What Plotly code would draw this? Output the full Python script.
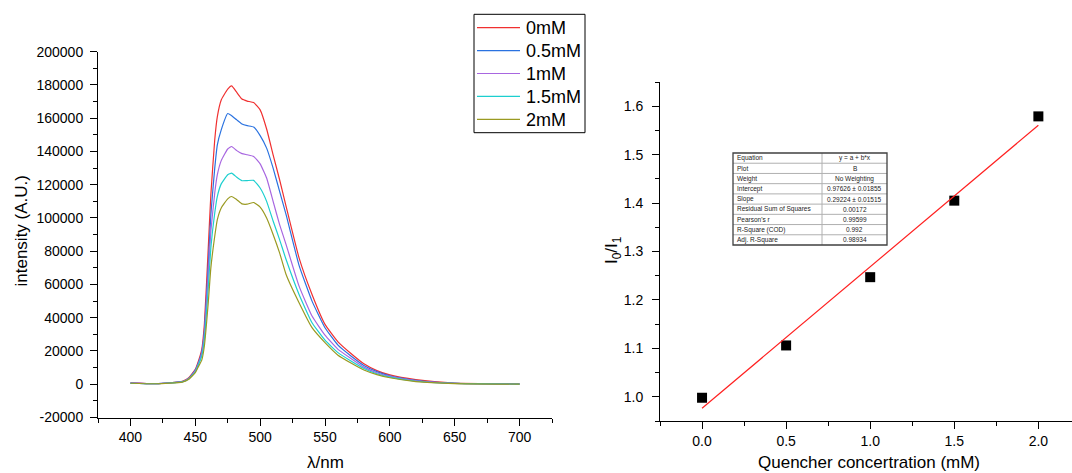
import plotly.graph_objects as go

W, H = 1072, 473

# ---------------- data: emission spectra ----------------
wavelength = [400, 420, 440, 445, 450, 452, 455, 457, 460, 462, 465, 467, 470, 475, 478, 482, 486,
              490, 495, 500, 505, 510, 515, 520, 530, 540, 550, 560, 570, 580, 590, 600, 620, 650, 700]
series_names = ["0mM", "0.5mM", "1mM", "1.5mM", "2mM"]
int_0mM = [800, 300, 1800, 4000, 9000, 13000, 21000, 36000, 82000, 114000, 147000, 161000, 171000,
           177500, 179400, 175500, 171500, 170300, 169400, 165000, 153500, 138000, 123000, 107000,
           76000, 54000, 36000, 25500, 18500, 12300, 8200, 5600, 2800, 700, 200]
int_05mM = [700, 300, 1600, 3600, 8500, 12000, 19500, 32000, 72000, 102000, 130000, 144000, 153000,
            162800, 161500, 159000, 156500, 155500, 154700, 149500, 142000, 130000, 116000, 102000,
            71500, 50000, 34000, 23500, 17000, 11300, 7600, 5100, 2400, 600, 150]
int_1mM = [700, 300, 1500, 3400, 8000, 11500, 18500, 30000, 66000, 92000, 115000, 126000, 134500,
           141500, 143000, 140500, 138700, 138000, 137000, 132500, 124000, 110000, 96000, 84000,
           59000, 41000, 29500, 21000, 15500, 10300, 6900, 4700, 2000, 500, 100]
int_15mM = [600, 300, 1400, 3200, 7500, 11000, 17000, 27000, 58000, 82000, 103000, 113000, 120500,
            126000, 127000, 124500, 122400, 122500, 122600, 118000, 110000, 98200, 87000, 75000,
            54000, 37000, 26500, 19000, 14000, 9500, 6300, 4300, 1800, 500, 100]
int_2mM = [600, 300, 1300, 3000, 7000, 10000, 14500, 23000, 49000, 70000, 89000, 99000, 106000,
           111500, 112900, 111000, 108500, 108300, 109300, 106500, 100000, 90100, 79000, 66000,
           49000, 34000, 25000, 17500, 12800, 8600, 5800, 3900, 1600, 400, 100]
spectra = [int_0mM, int_05mM, int_1mM, int_15mM, int_2mM]
colors = ["#F03030", "#2A72E0", "#A866E0", "#1CCFCF", "#9A9A22"]

left_y_ticks = [-20000, 0, 20000, 40000, 60000, 80000, 100000, 120000, 140000, 160000, 180000, 200000]
left_y_ticktext = ["-20000", "0", "20000", "40000", "60000", "80000", "100000", "120000",
                   "140000", "160000", "180000", "200000"]

# ---------------- data: Stern-Volmer ----------------
conc = [0.0, 0.5, 1.0, 1.5, 2.0]
ratio = [0.998, 1.106, 1.247, 1.405, 1.579]
fit_x = [0.0, 2.0]
fit_y = [0.97626, 1.56074]

table_labels = ["Equation", "Plot", "Weight", "Intercept", "Slope",
                "Residual Sum of Squares", "Pearson's r", "R-Square (COD)", "Adj. R-Square"]
table_values = ["y = a + b*x", "B", "No Weighting", "0.97626 \u00b1 0.01855",
                "0.29224 \u00b1 0.01515", "0.00172", "0.99599", "0.992", "0.98934"]


def px(x):
    return x / W


def py(y):
    return 1 - y / H


FONT = "Arial, Liberation Sans, sans-serif"

fig = go.Figure()
for name, vals, c in zip(series_names, spectra, colors):
    fig.add_trace(go.Scatter(x=wavelength, y=vals, mode="lines", name=name, showlegend=False,
                             line=dict(color=c, width=1.2, shape="spline", smoothing=0.4),
                             xaxis="x", yaxis="y"))

fig.add_trace(go.Scatter(x=conc, y=ratio, mode="markers", showlegend=False,
                         marker=dict(symbol="square", size=10, color="black"),
                         xaxis="x2", yaxis="y2"))
fig.add_trace(go.Scatter(x=fit_x, y=fit_y, mode="lines", showlegend=False,
                         line=dict(color="#FF2020", width=1.2),
                         xaxis="x2", yaxis="y2"))

axis_common = dict(showline=True, linecolor="black", linewidth=1, showgrid=False,
                   zeroline=False, ticks="outside", ticklen=7, tickwidth=1, tickcolor="black",
                   tickfont=dict(family=FONT, size=14, color="black"), automargin=False)

fig.update_layout(
    width=W, height=H,
    margin=dict(l=0, r=0, t=0, b=0),
    paper_bgcolor="white", plot_bgcolor="white",
    font=dict(family=FONT, color="black"),
    xaxis=dict(domain=[px(98), px(552)], range=[375, 725], anchor="y",
               tick0=0, dtick=50,
               minor=dict(dtick=25, tick0=0, ticklen=4, ticks="outside", tickcolor="black"),
               **axis_common),
    yaxis=dict(domain=[py(417.5), py(51.7)], range=[-20000, 200000], anchor="x",
               tickvals=left_y_ticks, ticktext=left_y_ticktext, ticklabelstandoff=4,
               minor=dict(dtick=10000, tick0=0, ticklen=4, ticks="outside", tickcolor="black"),
               **axis_common),
    xaxis2=dict(domain=[px(660), 1.0], range=[-0.25, 2.2], anchor="y2",
                tick0=0, dtick=0.5, tickformat=".1f",
                minor=dict(dtick=0.25, tick0=0, ticklen=4, ticks="outside", tickcolor="black"),
                **axis_common),
    yaxis2=dict(domain=[py(421), py(82)], range=[0.95, 1.65], anchor="x2",
                tick0=1.0, dtick=0.1, tickformat=".1f", ticklabelstandoff=6,
                minor=dict(dtick=0.05, tick0=0, ticklen=4, ticks="outside", tickcolor="black"),
                **axis_common),
    showlegend=False,
)

annotations = [
    dict(text="intensity (A.U.)", x=px(20.5), y=py(231), xref="paper", yref="paper",
         xanchor="center", yanchor="middle",
         textangle=-90, showarrow=False, font=dict(family=FONT, size=17, color="black")),
    dict(text="\u03bb/nm", x=px(325), y=py(462.5), xref="paper", yref="paper",
         xanchor="center", yanchor="middle",
         showarrow=False, font=dict(family=FONT, size=17, color="black")),
    dict(text="I<sub>0</sub>/I<sub>1</sub>", x=px(613), y=py(250), xref="paper", yref="paper",
         xanchor="center", yanchor="middle",
         textangle=-90, showarrow=False, font=dict(family=FONT, size=17, color="black")),
    dict(text="Quencher concertration (mM)", x=px(869), y=py(462), xref="paper", yref="paper",
         xanchor="center", yanchor="middle",
         showarrow=False, font=dict(family=FONT, size=17, color="black")),
]
shapes = []

# legend box (drawn as an inset)
lg_x0, lg_x1, lg_y0, lg_y1 = 474, 585, 14.3, 132.7
lg_first, lg_step = 27.7, 22.9
shapes.append(dict(type="rect", xref="paper", yref="paper", x0=px(lg_x0), x1=px(lg_x1),
                   y0=py(lg_y1), y1=py(lg_y0), line=dict(color="black", width=1),
                   fillcolor="white", layer="above"))
for i, (name, c) in enumerate(zip(series_names, colors)):
    yy = lg_first + i * lg_step
    shapes.append(dict(type="line", xref="paper", yref="paper", x0=px(477), x1=px(520),
                       y0=py(yy), y1=py(yy), line=dict(color=c, width=1.2), layer="above"))
    annotations.append(dict(text=name, x=px(524), y=py(yy + 0.5), xref="paper", yref="paper",
                            xanchor="left", yanchor="middle", showarrow=False,
                            font=dict(family=FONT, size=18, color="black")))

# results table (inset)
tx0, tx1, tdiv, ty0, ty1 = 733, 887, 822, 153, 245
nrows = len(table_labels)
rh = (ty1 - ty0) / nrows
for i in range(1, nrows):
    yy = ty0 + i * rh
    shapes.append(dict(type="line", xref="paper", yref="paper", x0=px(tx0), x1=px(tx1),
                       y0=py(yy), y1=py(yy), line=dict(color="#B0B0B0", width=1)))
shapes.append(dict(type="line", xref="paper", yref="paper", x0=px(tdiv), x1=px(tdiv),
                   y0=py(ty0), y1=py(ty1), line=dict(color="#B0B0B0", width=1)))
shapes.append(dict(type="rect", xref="paper", yref="paper", x0=px(tx0), x1=px(tx1),
                   y0=py(ty1), y1=py(ty0), line=dict(color="#404040", width=1.3),
                   fillcolor="rgba(0,0,0,0)"))
for i, (lab, val) in enumerate(zip(table_labels, table_values)):
    yc = ty0 + (i + 0.5) * rh
    annotations.append(dict(text=lab, x=px(tx0 + 2), y=py(yc), xref="paper", yref="paper",
                            xanchor="left", yanchor="middle", showarrow=False,
                            font=dict(family=FONT, size=6.5, color="#222222")))
    annotations.append(dict(text=val, x=px((tdiv + tx1) / 2), y=py(yc), xref="paper", yref="paper",
                            xanchor="center", yanchor="middle", showarrow=False,
                            font=dict(family=FONT, size=6.5, color="#222222")))

fig.update_layout(annotations=annotations, shapes=shapes)
fig.write_html("out.html", config={"displayModeBar": False},
               post_script="document.body.style.margin='0px';")
